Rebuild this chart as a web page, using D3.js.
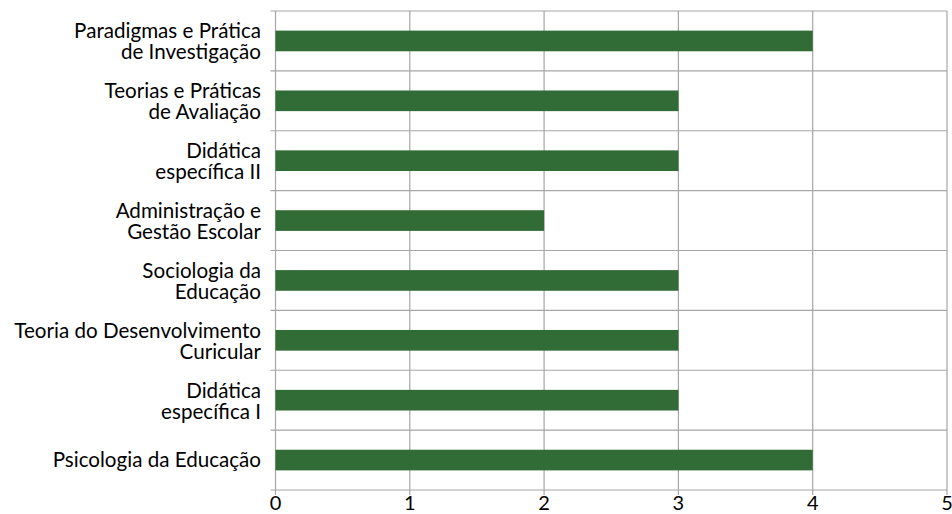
<!DOCTYPE html>
<html><head><meta charset="utf-8">
<script src="https://cdn.jsdelivr.net/npm/d3@7"></script>
<style>
html,body{margin:0;padding:0;background:#fff;}
text{font-family:Lato,"Open Sans",sans-serif;fill:#000;}
</style></head>
<body><svg id="c" width="952" height="514"></svg>
<script>
const categories = [
  ["Paradigmas e Prática","de Investigação"],
  ["Teorias e Práticas","de Avaliação"],
  ["Didática","específica II"],
  ["Administração e","Gestão Escolar"],
  ["Sociologia da","Educação"],
  ["Teoria do Desenvolvimento","Curicular"],
  ["Didática","específica I"],
  ["Psicologia da Educação"]
];
const values = [4, 3, 3, 2, 3, 3, 3, 4];
const xTicks = [0, 1, 2, 3, 4, 5];

const svg = d3.select("#c");
const m = {left: 275.5, right: 947, top: 11, bottom: 490};
const keys = categories.map((d, i) => i);
const x = d3.scaleLinear().domain([0, 5]).range([m.left, m.right]);
const y = d3.scaleBand().domain(keys).range([m.top, m.bottom]).paddingInner(0).paddingOuter(0);
const grid = "#a6a6a6";
const barH = y.bandwidth() * 0.345;

// vertical gridlines
svg.append("g").selectAll("line").data(xTicks).join("line")
  .attr("x1", d => x(d)).attr("x2", d => x(d))
  .attr("y1", m.top).attr("y2", m.bottom + 5)
  .attr("stroke", grid).attr("stroke-width", 1.2);
// horizontal band boundaries
const bounds = keys.map(k => y(k)).concat([m.bottom]);
svg.append("g").selectAll("line").data(bounds).join("line")
  .attr("x1", m.left - 5).attr("x2", m.right)
  .attr("y1", d => d).attr("y2", d => d)
  .attr("stroke", grid).attr("stroke-width", 1.2);

// bars
svg.append("g").selectAll("rect").data(values).join("rect")
  .attr("x", x(0))
  .attr("y", (d, i) => y(i) + y.bandwidth() / 2 - barH / 2)
  .attr("width", d => x(d) - x(0))
  .attr("height", barH)
  .attr("fill", "#316b35");

// x tick labels
svg.append("g").selectAll("text").data(xTicks).join("text")
  .attr("x", d => x(d)).attr("y", 510)
  .attr("text-anchor", "middle")
  .style("font-size", "20px")
  .text(d => d);

// category labels
const lab = svg.append("g");
categories.forEach((lines, i) => {
  const cy = y(i) + y.bandwidth() / 2;
  const lh = 21;
  const n = lines.length;
  const t = lab.append("text")
    .attr("text-anchor", "end")
    .style("font-size", "20.6px");
  lines.forEach((l, j) => {
    t.append("tspan").attr("x", 261)
      .attr("y", cy + (j - (n - 1) / 2) * lh + (n > 1 ? 8 : 7))
      .text(l);
  });
});
</script></body></html>
